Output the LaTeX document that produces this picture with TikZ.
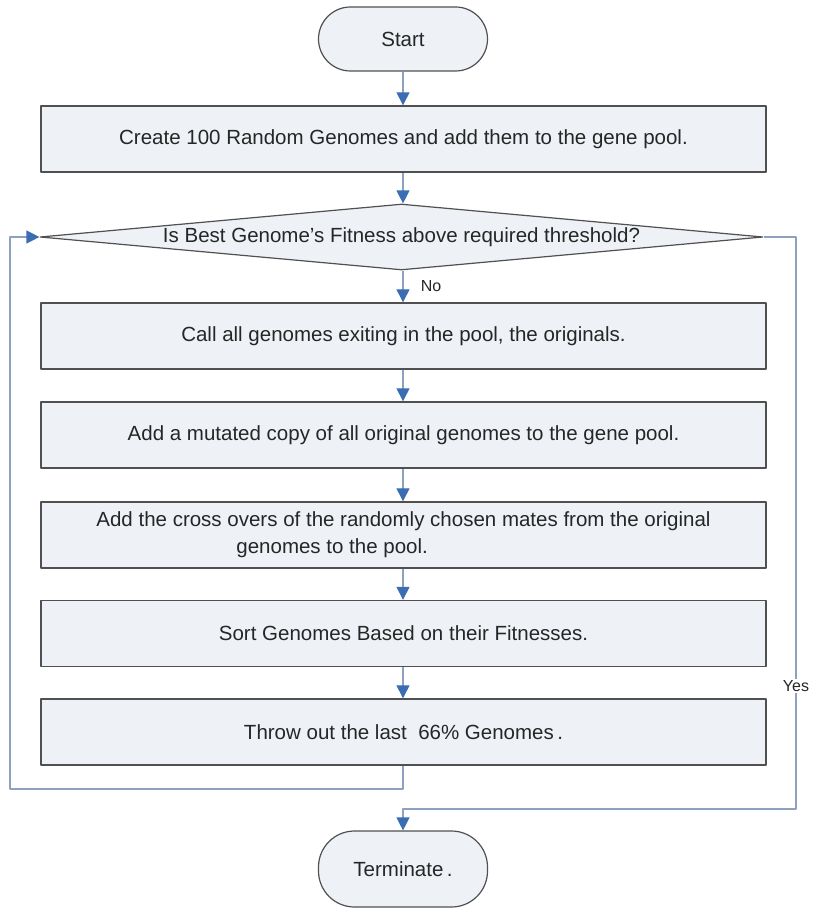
\documentclass[tikz,border=0pt]{standalone}
\usepackage{fontspec}
\setmainfont{Liberation Sans}
\usetikzlibrary{shapes.geometric,arrows.meta}
\definecolor{boxfill}{HTML}{EEF2F7}
\definecolor{boxline}{HTML}{505050}
\definecolor{flowline}{HTML}{8DA2C0}
\definecolor{tipblue}{HTML}{3B6DB3}
\begin{document}
\begin{tikzpicture}[x=1pt,y=-1pt,line join=round,
		every node/.style={font=\fontsize{20.5}{27}\selectfont,text=black!85},
		procbox/.style={draw=boxline,fill=boxfill,line width=1.4pt,minimum width=725,minimum height=66,inner sep=0pt},
		termbox/.style={draw=boxline,fill=boxfill,line width=1.2pt,rounded corners=32,minimum width=169,minimum height=64,inner sep=0pt},
		testbox/.style={draw=boxline,fill=boxfill,line width=1.2pt,diamond,aspect=11,minimum width=723,minimum height=66,inner sep=0pt},
		flow/.style={draw=flowline,line width=1.3pt,-{Triangle[width=13,length=13,color=tipblue]}},
		lbl/.style={font=\fontsize{16}{18}\selectfont,inner sep=1pt}]
	\useasboundingbox (0,0) rectangle (812,909);
	\node[termbox] (start) at (403,39) {Start};
	\node[procbox] (create) at (403.5,139) {Create 100 Random Genomes and add them to the gene pool.};
	\node[testbox] (test) at (401.5,237) {Is Best Genome’s Fitness above required threshold?};
	\foreach \n/\y/\t in {call/336/{Call all genomes exiting in the pool, the originals.},
		mutate/435/{Add a mutated copy of all original genomes to the gene pool.},
		cross/535/{\begin{tabular}{@{}l@{}}Add the cross overs of the randomly chosen mates from the original\\\hspace{140pt}genomes to the pool.\end{tabular}},
		sort/633.5/{Sort Genomes Based on their Fitnesses.},
		throw/732/{Throw out the last~ 66\% Genomes\,.}}
	\node[procbox] (\n) at (403.5,\y) {\t};
	\node[termbox,minimum height=76,rounded corners=36] (term) at (403,869) {Terminate\,.};
	% straight connectors
	\foreach \a/\b in {start/create,create/test,test/call,call/mutate,mutate/cross,cross/sort,sort/throw}
	\draw[flow] (\a.south-|403,0) -- (\b.north-|403,0);
	\node[lbl] (no) at (431,286) {No};
	% loop back and exit
	\coordinate (loopcorner) at (10,789);
	\coordinate (yescorner) at (796,809);
	\draw[flow] (throw.south-|403,0) |- (loopcorner) |- (test.west);
	\draw[flow] (test.east) -| (yescorner) -| (term.north);
	\node[lbl,fill=white] (yes) at (796,686) {Yes};
\end{tikzpicture}
\end{document}
